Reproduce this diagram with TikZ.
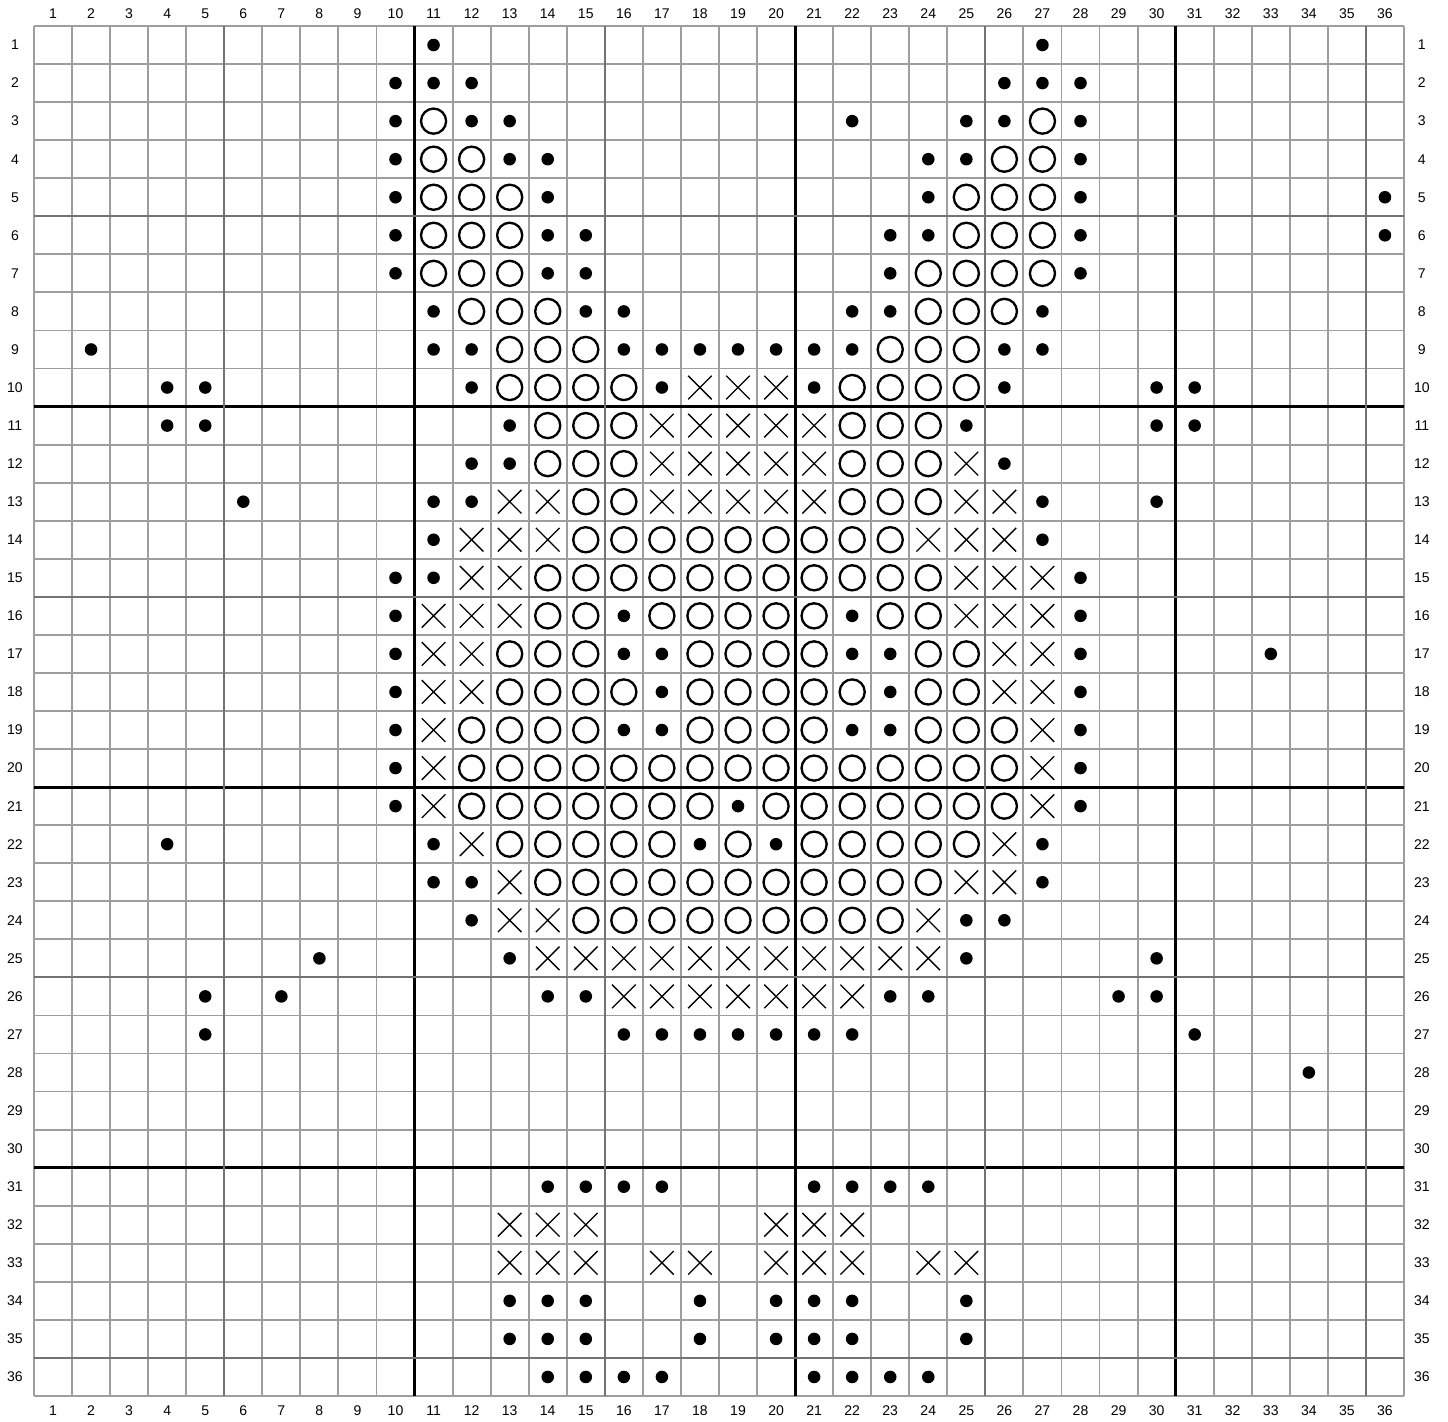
\documentclass[tikz,border=0pt]{standalone}
\usepackage{fontspec}
\setmainfont{Liberation Sans}
\usepackage{tikz}

\begin{document}
\begin{tikzpicture}[x=1cm,y=-1cm,
  gridline/.style={black!38,line width=1.4pt},
  fiveline/.style={black!55,line width=1.5pt},
  tenline/.style={black,line width=2.2pt},
  lbl/.style={inner sep=0pt,font=\fontsize{10.5}{12}\selectfont},
  ring/.style={line width=1.75pt},
  cross/.style={line width=1pt}]
  \useasboundingbox (-0.893,-0.683) rectangle (37.157,36.68);
  % grid: thin, then every 10th, then every 5th on top
  \foreach \i in {0,...,36}{\draw[gridline] (\i,0) -- (\i,36); \draw[gridline] (0,\i) -- (36,\i);}
  \foreach \i in {10,20,30}{\draw[tenline] (\i,0) -- (\i,36); \draw[tenline] (0,\i) -- (36,\i);}
  \foreach \i in {5,15,25,35}{\draw[fiveline] (\i,0) -- (\i,36); \draw[fiveline] (0,\i) -- (36,\i);}
  % numbers round the chart
  \foreach \i in {1,...,36}{
    \node[lbl] (ct\i) at (\i-0.5,-0.315) {\i};
    \node[lbl] (cb\i) at (\i-0.5,36.39) {\i};
    \node[lbl] (rl\i) at (-0.5,\i-0.5) {\i};
    \node[lbl] (rr\i) at (36.47,\i-0.5) {\i};}
  % dots
  \foreach \r/\cs in {1/{11,27},2/{10,11,12,26,27,28},3/{10,12,13,22,25,26,28},4/{10,13,14,24,25,28},
    5/{10,14,24,28,36},6/{10,14,15,23,24,28,36},7/{10,14,15,23,28},8/{11,15,16,22,23,27},
    9/{2,11,12,16,17,18,19,20,21,22,26,27},10/{4,5,12,17,21,26,30,31},11/{4,5,13,25,30,31},
    12/{12,13,26},13/{6,11,12,27,30},14/{11,27},15/{10,11,28},16/{10,16,22,28},
    17/{10,16,17,22,23,28,33},18/{10,17,23,28},19/{10,16,17,22,23,28},20/{10,28},21/{10,19,28},
    22/{4,11,18,20,27},23/{11,12,27},24/{12,25,26},25/{8,13,25,30},26/{5,7,14,15,23,24,29,30},
    27/{5,16,17,18,19,20,21,22,31},28/{34},31/{14,15,16,17,21,22,23,24},
    34/{13,14,15,18,20,21,22,25},35/{13,14,15,18,20,21,22,25},36/{14,15,16,17,21,22,23,24}}
    \foreach \c in \cs {\fill (\c-0.5,\r-0.5) circle (0.165);}
  % circles
  \foreach \r/\cs in {3/{11,27},4/{11,12,26,27},5/{11,12,13,25,26,27},6/{11,12,13,25,26,27},
    7/{11,12,13,24,25,26,27},8/{12,13,14,24,25,26},9/{13,14,15,23,24,25},
    10/{13,14,15,16,22,23,24,25},11/{14,15,16,22,23,24},12/{14,15,16,22,23,24},
    13/{15,16,22,23,24},14/{15,...,23},15/{14,...,24},16/{14,15,17,18,19,20,21,23,24},
    17/{13,14,15,18,19,20,21,24,25},18/{13,14,15,16,18,19,20,21,22,24,25},
    19/{12,13,14,15,18,19,20,21,24,25,26},20/{12,...,26},21/{12,...,18,20,21,22,23,24,25,26},
    22/{13,14,15,16,17,19,21,22,23,24,25},23/{14,...,24},24/{15,...,23}}
    \foreach \c in \cs {\draw[ring] (\c-0.5,\r-0.5) circle (0.33);}
  % crosses
  \foreach \r/\cs in {10/{18,19,20},11/{17,...,21},12/{17,18,19,20,21,25},
    13/{13,14,17,18,19,20,21,25,26},14/{12,13,14,24,25,26},15/{12,13,25,26,27},
    16/{11,12,13,25,26,27},17/{11,12,26,27},18/{11,12,26,27},19/{11,27},20/{11,27},21/{11,27},
    22/{12,26},23/{13,25,26},24/{13,14,24},25/{14,...,24},26/{16,...,22},
    32/{13,14,15,20,21,22},33/{13,14,15,17,18,20,21,22,24,25}}
    \foreach \c in \cs {\draw[cross] (\c-0.81,\r-0.81) -- (\c-0.19,\r-0.19) (\c-0.81,\r-0.19) -- (\c-0.19,\r-0.81);}
\end{tikzpicture}
\end{document}
